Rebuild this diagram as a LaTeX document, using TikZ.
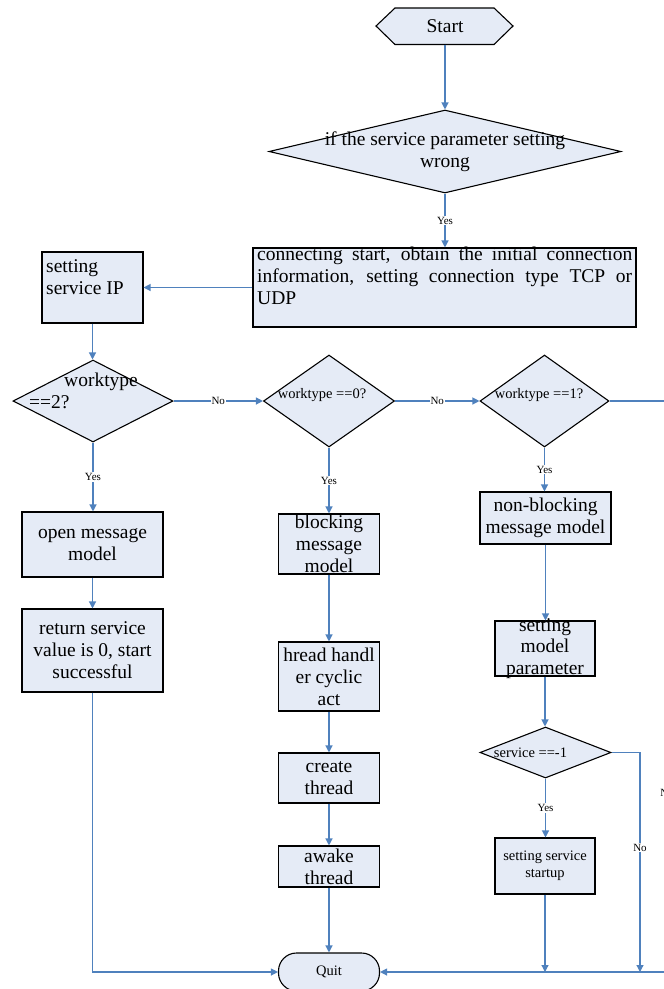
\documentclass[tikz,border=0pt]{standalone}
\usepackage{fontspec}
\setmainfont{Liberation Serif}
\usetikzlibrary{shapes.geometric,arrows.meta}
\definecolor{boxfill}{RGB}{229,235,246}
\definecolor{lineblue}{RGB}{79,129,189}
\begin{document}
\begin{tikzpicture}[x=1pt,y=-1pt,
  shp/.style={draw=black, line width=1.1pt, fill=boxfill, inner sep=0pt},
  dia/.style={shp, diamond},
  big/.style={font=\fontsize{19.5}{22}\selectfont, align=center, inner sep=0pt},
  small/.style={font=\fontsize{14.5}{17}\selectfont, align=center, inner sep=0pt},
  lab/.style={font=\fontsize{11}{12}\selectfont, fill=white, inner sep=1pt},
  arr/.style={draw=lineblue, line width=1.2pt, -{Triangle[length=7pt,width=7pt]}}]
\useasboundingbox (0,0) rectangle (664,989);
% Start
\path[shp] (376,26) -- (395,8) -- (494,8) -- (513,26) -- (494,44.5) -- (395,44.5) -- cycle;
\node[big, minimum width=137pt, minimum height=37pt] (start) at (445,26) {Start};
% decision 1
\node[dia, minimum width=352pt, minimum height=83pt] (d1) at (445,151.5) {};
\node[big] at (d1) {if the service parameter setting\\wrong};
% connecting box
\node[shp, minimum width=383pt, minimum height=79pt] (conn) at (444.5,287.5) {};
\node[big, text width=375pt, align=justify, anchor=north west] at (257,247) {\hyphenpenalty=10000 connecting start, obtain the initial connection\linebreak information, setting connection type TCP or\linebreak UDP};
% setting service IP
\node[shp, minimum width=101pt, minimum height=71pt] (ip) at (92.5,287.5) {};
\node[big, align=left, anchor=north west] at (46,259) {setting\\service IP};
% worktype decisions
\node[dia, minimum width=160pt, minimum height=82pt] (d2) at (93,401) {};
\node[big, anchor=base west] at (64,386) {worktype};
\node[big, anchor=base west] at (29,408) {==2?};
\node[dia, minimum width=131pt, minimum height=92pt] (d0) at (329,401) {};
\node[small] at (322,395) {worktype ==0?};
\node[dia, minimum width=129pt, minimum height=92pt] (dw1) at (544.5,401) {};
\node[small] at (539,395) {worktype ==1?};
% left column
\node[shp, minimum width=141pt, minimum height=65pt] (open) at (92.5,544.5) {};
\node[big] at (open) {open message\\model};
\node[shp, minimum width=141pt, minimum height=83pt] (ret) at (92.5,650.5) {};
\node[big] at (ret) {return service\\value is 0, start\\successful};
% middle column
\node[shp, minimum width=101pt, minimum height=60pt] (block) at (329,544) {};
\node[big] at (block) {blocking\\message\\model};
\node[shp, minimum width=101pt, minimum height=69pt] (hread) at (329,676.5) {};
\node[big] at (hread) {hread handl\\er cyclic\\act};
\node[shp, minimum width=101pt, minimum height=50pt] (create) at (329,778) {};
\node[big] at (create) {create\\thread};
\node[shp, minimum width=101pt, minimum height=41pt] (awake) at (329,866.5) {};
\node[big] at (awake) {awake\\thread};
\node[shp, rounded corners=18pt, minimum width=101pt, minimum height=38pt] (quit) at (329,972) {};
\node[small] at (quit) {Quit};
% right column
\node[shp, minimum width=131pt, minimum height=52pt] (nb) at (545.5,518) {};
\node[big] at (nb) {non-blocking\\message model};
\node[shp, minimum width=100pt, minimum height=55pt] (smp) at (545,648.5) {};
\node[big, font=\fontsize{19.5}{21.5}\selectfont] at (smp) {setting\\model\\parameter};
\node[dia, minimum width=131pt, minimum height=51pt] (svc) at (545.5,752.5) {};
\node[small] at (530.5,753) {service ==-1};
\node[shp, minimum width=100pt, minimum height=56pt] (sss) at (545,866) {};
\node[small] at (sss) {setting service\\startup};
% coordinates
\coordinate (rr) at (667,401);
\coordinate (sno) at (640,972);
\coordinate (sse) at (sss.south |- quit.east);
% connectors
\draw[arr] (start.south) -- (d1.north);
\draw[arr] (d1.south) -- node[lab]{Yes} (d1.south |- conn.north);
\draw[arr] (conn.west) -- (ip.east);
\draw[arr] (ip.south) -- (ip.south |- d2.north);
\draw[arr] (d2.east) -- node[lab]{No} (d0.west);
\draw[arr] (d0.east) -- node[lab]{No} (dw1.west);
\draw[arr] (dw1.east) -- (rr) |- node[lab, pos=0.343]{No} (quit.east);
\draw[arr] (d2.south) -- node[lab]{Yes} (d2.south |- open.north);
\draw[arr] (open.south) -- (ret.north);
\draw[arr] (ret.south) |- (quit.west);
\draw[arr] (d0.south) -- node[lab]{Yes} (block.north);
\draw[arr] (block.south) -- (hread.north);
\draw[arr] (hread.south) -- (create.north);
\draw[arr] (create.south) -- (awake.north);
\draw[arr] (awake.south) -- (quit.north);
\draw[arr] (dw1.south) -- node[lab]{Yes} (dw1.south |- nb.north);
\draw[arr] (nb.south) -- (nb.south |- smp.north);
\draw[arr] (smp.south) -- (smp.south |- svc.north);
\draw[arr] (svc.south) -- node[lab]{Yes} (svc.south |- sss.north);
\draw[arr] (svc.east) -| node[lab, pos=0.717]{No} (sno);
\draw[arr] (sss.south) -- (sse);
\end{tikzpicture}
\end{document}
